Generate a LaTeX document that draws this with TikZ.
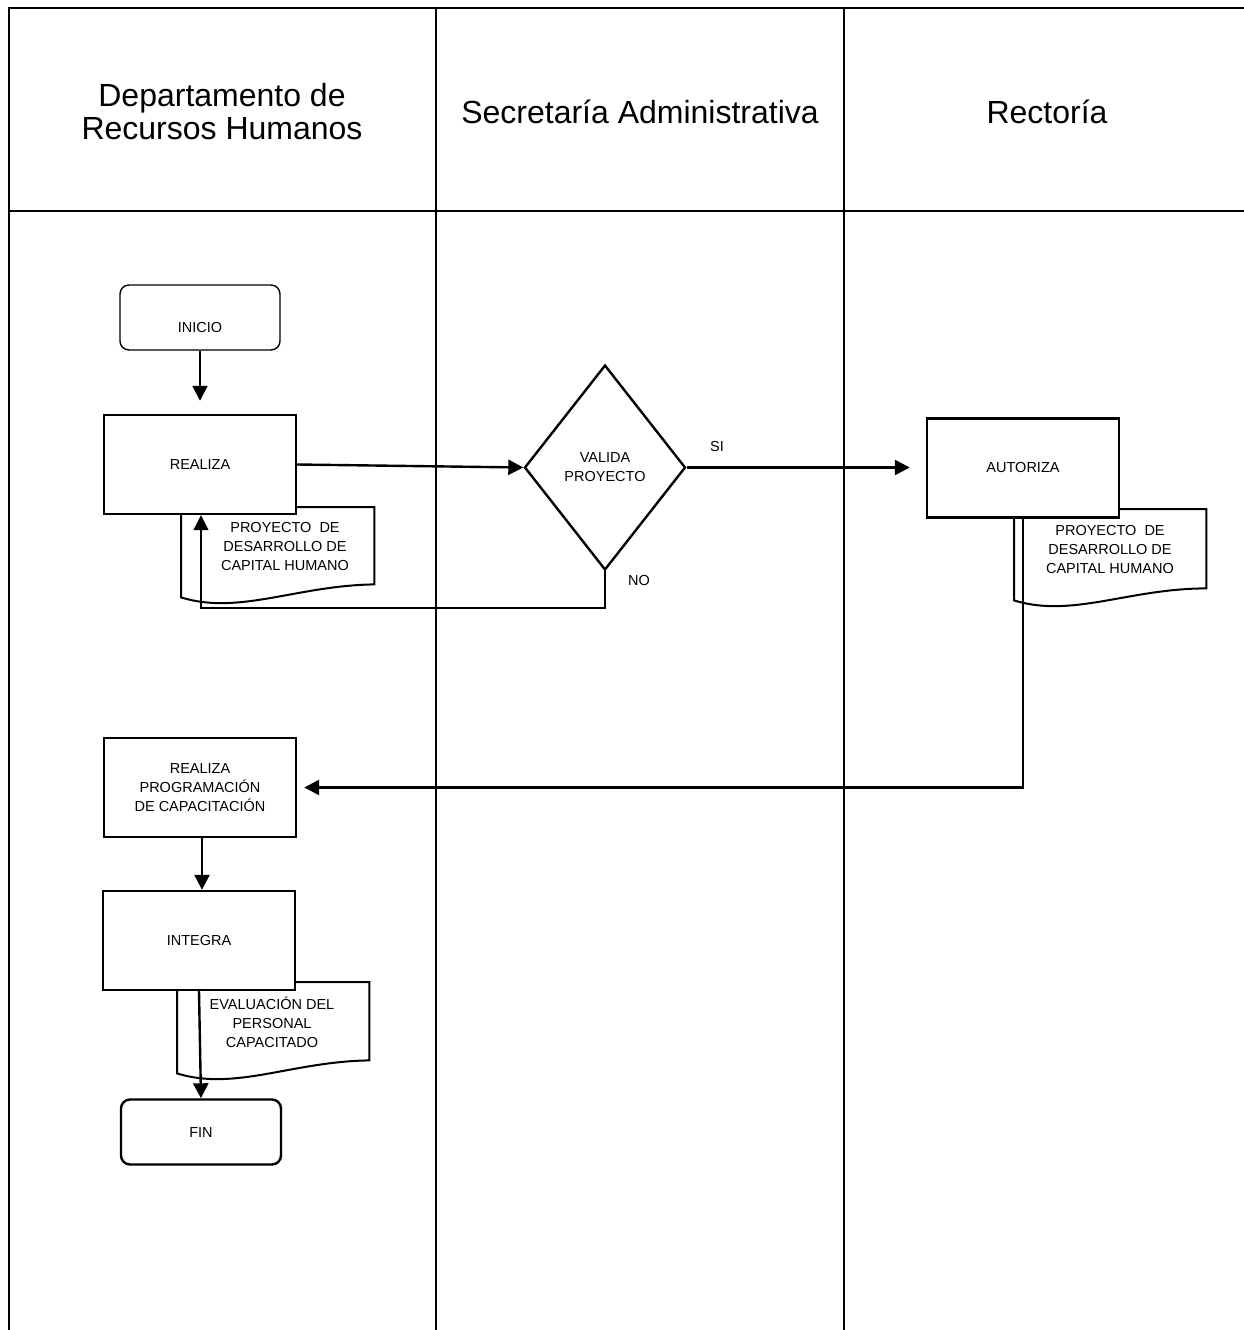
\documentclass[tikz,border=0pt]{standalone}
\usepackage{fontspec}
\setmainfont{Liberation Sans}
\usetikzlibrary{arrows.meta,shapes.geometric,calc}

\begin{document}
\begin{tikzpicture}[x=1pt,y=-1pt,
  frame/.style={line width=2.4pt},
  head/.style={font=\fontsize{32}{33}\selectfont, align=center, inner sep=0pt},
  lbl/.style={font=\fontsize{14.5}{19}\selectfont, align=center, inner sep=0pt},
  proc/.style={draw, line width=2.4pt, fill=white, inner sep=0pt, lbl,
               minimum width=192pt, minimum height=99pt},
  term/.style={draw, rounded corners=9pt, fill=white, inner sep=0pt, lbl,
               minimum width=160pt, minimum height=65pt},
  decide/.style={draw, diamond, line width=2.4pt, fill=white, inner sep=0pt, lbl,
                 minimum width=161pt, minimum height=205pt},
  docarea/.style={draw=none, inner sep=0pt, anchor=north west},
  docline/.style={line width=2pt},
  flow/.style={line width=2.4pt, -{Triangle[length=15pt,width=15pt]}},
  backflow/.style={line width=1.6pt, -{Triangle[length=15pt,width=15pt]}}
]
\useasboundingbox (0,0) rectangle (1244,1330);

% swimlane frame
\draw[frame] (1244,8) -- (9,8) -- (9,1330);
\draw[frame] (9,211) -- (1244,211);
\draw[frame] (436,8) -- (436,1330);
\draw[frame] (844,8) -- (844,1330);

% lane titles
\node[head] (laneRH) at (222,112) {Departamento de\\Recursos Humanos};
\node[head] (laneSA) at (640,112) {Secretaría Administrativa};
\node[head] (laneRE) at (1047,112) {Rectoría};

% documents (drawn beneath the process boxes)
\node[docarea, minimum width=193pt, minimum height=90pt] (d1) at (181,507) {};
\draw[docline] (d1.north east) -- (d1.north west) -- (d1.south west)
  .. controls ($(d1.south west)+(58,18)$) and ($(d1.south west)+(116,-12)$)
  .. ($(d1.south east)+(0,-13)$) -- cycle;
\node[lbl] (d1t) at (285,547) {PROYECTO\ \ DE\\DESARROLLO DE\\CAPITAL HUMANO};

\node[docarea, minimum width=192pt, minimum height=91pt] (d2) at (1014,509) {};
\draw[docline] (d2.north east) -- (d2.north west) -- (d2.south west)
  .. controls ($(d2.south west)+(58,18)$) and ($(d2.south west)+(115,-12)$)
  .. ($(d2.south east)+(0,-12)$) -- cycle;
\node[lbl] (d2t) at (1110,550) {PROYECTO\ \ DE\\DESARROLLO DE\\CAPITAL HUMANO};

\node[docarea, minimum width=192pt, minimum height=91pt] (d3) at (177,982) {};
\draw[docline] (d3.north east) -- (d3.north west) -- (d3.south west)
  .. controls ($(d3.south west)+(58,18)$) and ($(d3.south west)+(115,-12)$)
  .. ($(d3.south east)+(0,-13)$) -- cycle;
\node[lbl] (d3t) at (272,1022) {EVALUACIÓN DEL\\PERSONAL\\CAPACITADO};

% flow shapes
\node[term, line width=1.4pt, text height=29pt, text depth=0pt] (inicio) at (200,317.5) {INICIO};
\node[proc] (realiza) at (200,464.5) {REALIZA};
\node[decide] (valida) at (605,467.5) {VALIDA\\PROYECTO};
\node[proc] (autoriza) at (1023,468) {AUTORIZA};
\node[proc] (prog) at (200,787.5) {REALIZA\\PROGRAMACIÓN\\DE CAPACITACIÓN};
\node[proc] (integra) at (199,940.5) {INTEGRA};
\node[term, line width=2.4pt] (fin) at (201,1132) {FIN};

% connectors
\draw[flow, shorten >=13pt] (inicio) -- (realiza);
\draw[flow] (realiza.east) -- (valida.west);
\draw[flow, shorten >=16pt] (valida.east) -- (valida.east -| autoriza.west);
\node[lbl] (si) at (717,447) {SI};

\coordinate (noturn) at (201,608);
\draw[backflow] (valida.south) |- (noturn) -- (noturn |- realiza.south);
\node[lbl] (no) at (639,581) {NO};

\draw[flow, shorten >=7pt] (autoriza.south) |- (prog.east);
\draw[flow] (prog.south -| 202,0) -- (integra.north -| 202,0);
\draw[flow] (integra.south) -- (fin.north);

\end{tikzpicture}
\end{document}
